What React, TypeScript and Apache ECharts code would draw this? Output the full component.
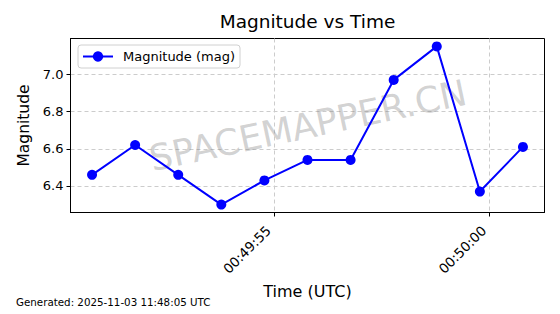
import React, { useEffect, useRef } from 'react';
import * as echarts from 'echarts';

const FONT = '"DejaVu Sans", Arial, sans-serif';

const titleText = 'Magnitude vs Time';
const seriesName = 'Magnitude (mag)';
const xAxisName = 'Time (UTC)';
const yAxisName = 'Magnitude';
const footerText = 'Generated: 2025-11-03 11:48:05 UTC';
const watermarkText = 'SPACEMAPPER.CN';

const times = [
  '00:49:50.78',
  '00:49:51.78',
  '00:49:52.78',
  '00:49:53.78',
  '00:49:54.78',
  '00:49:55.78',
  '00:49:56.78',
  '00:49:57.78',
  '00:49:58.78',
  '00:49:59.78',
  '00:50:00.78',
];
const magnitudes = [6.46, 6.62, 6.46, 6.3, 6.43, 6.54, 6.54, 6.97, 7.15, 6.37, 6.61];

const xTickLabels = ['00:49:55', '00:50:00'];
const yTickValues = [6.4, 6.6, 6.8, 7.0];

function toSeconds(t: string): number {
  const [h, m, s] = t.split(':');
  return Number(h) * 3600 + Number(m) * 60 + parseFloat(s);
}

function pad(n: number): string {
  return n < 10 ? '0' + n : String(n);
}

function formatTime(v: number): string {
  const r = Math.round(v);
  const h = Math.floor(r / 3600);
  const m = Math.floor((r % 3600) / 60);
  const s = r % 60;
  return pad(h) + ':' + pad(m) + ':' + pad(s);
}

export default function App() {
  const ref = useRef<HTMLDivElement>(null);

  useEffect(() => {
    if (!ref.current) return;
    const chart = echarts.init(ref.current, undefined, { renderer: 'svg' });

    const xs = times.map(toSeconds);
    const xMinD = Math.min(...xs);
    const xMaxD = Math.max(...xs);
    const xPad = (xMaxD - xMinD) * 0.05;
    const yMinD = Math.min(...magnitudes);
    const yMaxD = Math.max(...magnitudes);
    const yPad = (yMaxD - yMinD) * 0.05;
    const xTicks = xTickLabels.map(toSeconds);

    const data = xs.map((x, i) => [x, magnitudes[i]]);

    chart.setOption({
      animation: false,
      textStyle: { fontFamily: FONT },
      title: {
        text: titleText,
        left: 307.5,
        top: 12,
        padding: 0,
        textAlign: 'center',
        textStyle: { fontSize: 18.5, fontWeight: 'normal', color: '#000', fontFamily: FONT },
      },
      legend: {
        left: 78,
        top: 45,
        padding: [5, 5, 5, 4],
        itemWidth: 30,
        itemHeight: 13,
        backgroundColor: 'rgba(255,255,255,0.8)',
        borderColor: '#d0d0d0',
        borderWidth: 1,
        borderRadius: 3,
        textStyle: { fontSize: 13, color: '#000', fontFamily: FONT, padding: [0, 0, 0, 5] },
        data: [seriesName],
      },
      grid: {
        left: 70.5,
        right: 15.5,
        top: 38.5,
        bottom: 101.5,
        show: true,
        borderColor: '#000',
        borderWidth: 1,
        backgroundColor: 'transparent',
      },
      xAxis: {
        type: 'value',
        min: xMinD - xPad,
        max: xMaxD + xPad,
        name: xAxisName,
        nameLocation: 'middle',
        nameGap: 68,
        nameTextStyle: { fontSize: 16, color: '#000', fontFamily: FONT },
        axisLine: { show: true, lineStyle: { color: '#000', width: 1 } },
        axisTick: { show: true, customValues: xTicks, length: 4, lineStyle: { color: '#000' } },
        axisLabel: {
          customValues: xTicks,
          rotate: 45,
          margin: 10,
          fontSize: 13.5,
          color: '#000',
          fontFamily: FONT,
          padding: [0, 8, 0, 0],
          formatter: (v: number) => formatTime(v),
        },
        splitLine: { show: true, lineStyle: { type: [4, 3], color: '#cccccc', width: 1 } },
      },
      yAxis: {
        type: 'value',
        min: yMinD - yPad,
        max: yMaxD + yPad,
        name: yAxisName,
        nameLocation: 'middle',
        nameRotate: 90,
        nameGap: 33,
        nameTextStyle: { fontSize: 15.5, color: '#000', fontFamily: FONT },
        axisLine: { show: true, lineStyle: { color: '#000', width: 1 } },
        axisTick: { show: true, customValues: yTickValues, length: 4, lineStyle: { color: '#000' } },
        axisLabel: {
          customValues: yTickValues,
          margin: 7,
          fontSize: 13,
          color: '#000',
          fontFamily: FONT,
          formatter: (v: number) => v.toFixed(1),
        },
        splitLine: { show: true, lineStyle: { type: [4, 3], color: '#cccccc', width: 1 } },
      },
      series: [
        {
          type: 'line',
          name: seriesName,
          data,
          symbol: 'circle',
          symbolSize: 10,
          lineStyle: { color: '#0000ff', width: 2 },
          itemStyle: { color: '#0000ff' },
          z: 3,
        },
      ],
      graphic: [
        {
          type: 'text',
          x: 308,
          y: 125.5,
          rotation: (12 * Math.PI) / 180,
          z: 1,
          silent: true,
          style: {
            text: watermarkText,
            fontSize: 36,
            fontFamily: FONT,
            fill: 'rgba(128,128,128,0.36)',
            align: 'center',
            verticalAlign: 'middle',
          },
        },
        {
          type: 'text',
          left: 16,
          top: 297,
          style: {
            text: footerText,
            fontSize: 10.3,
            fontFamily: FONT,
            fill: '#000',
          },
        },
      ],
    });

    return () => {
      chart.dispose();
    };
  }, []);

  return (
    <div
      ref={ref}
      style={{ position: 'fixed', left: 0, top: 0, width: 560, height: 314, background: '#fff' }}
    />
  );
}
